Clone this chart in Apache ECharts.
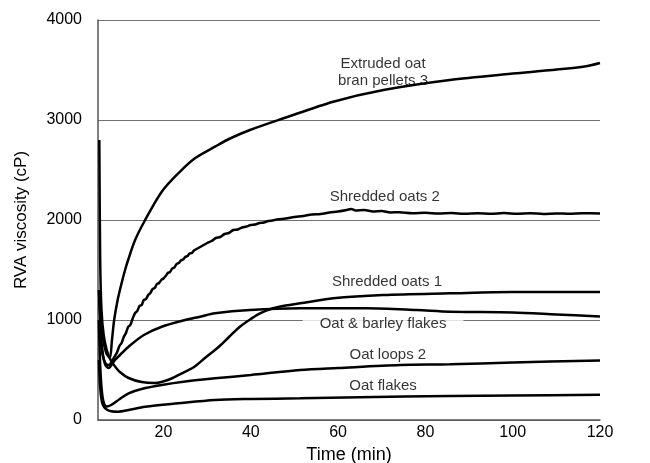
<!DOCTYPE html>
<html>
<head>
<meta charset="utf-8">
<script src="https://cdn.jsdelivr.net/npm/echarts@6/dist/echarts.min.js"></script>
<style>html,body{margin:0;padding:0;background:#fff}#c{width:650px;height:463px}</style>
</head>
<body>
<div id="c"></div>
<script>
// ---- data ----
const extrudedT = [5.2,5.6,6.2,6.9,7.7,8.2,8.7,9.5,10.3,11.2,11.9,13.5,15.8,19.6,23.4,27.2,31.8,35,39.8,47.5,58.9,70.4,85.6,100.9,116.1,120];
const extrudedV = [1300,1000,800,670,620,800,1000,1200,1350,1500,1600,1800,2000,2283,2467,2617,2733,2810,2900,3017,3183,3300,3400,3467,3533,3570];

const shred2T = [5.3,5.6,6.1,6.8,7.5,8.2,8.9,9.4,9.9,10.4,10.9,11.4,11.9,12.4,12.9,13.5,14.0,14.5,15.0,15.5,16.0,16.5,17.0,17.5,18.0,18.5,19.0,19.5,20.0,20.5,21.0,21.5,22.0,22.5,23.0,23.5,24.0,24.5,25.0,25.5,26.0,26.5,27.0,28.0,29.0,30.0,31.0,32.0,33.0,34.0,35.0,36.0,37.0,38.0,39.0,40.0,41.0,42.0,43.0,44.0,45.0,46.0,48,50,52,54,56,58,60,62,63,64,66,68,70,72,74,77,80,83,86,89,92,95,98,101,104,107,110,113,116,120];
const shred2V = [1000,800,640,560,550,590,640,680,740,770,830,870,930,950,1010,1070,1090,1140,1150,1200,1210,1250,1270,1310,1320,1360,1370,1400,1415,1440,1470,1480,1515,1525,1560,1570,1595,1605,1630,1640,1665,1670,1695,1720,1745,1770,1790,1820,1830,1860,1870,1900,1905,1925,1935,1950,1955,1970,1975,1990,1995,2005,2015,2030,2040,2055,2060,2075,2085,2100,2110,2095,2100,2085,2090,2075,2078,2068,2072,2064,2070,2062,2068,2063,2069,2062,2067,2061,2066,2062,2067,2066];

const shred1T = [5.3,5.5,5.8,6.3,7,8,9,10,12,15,18,21,24.2,27,29.5,31.8,33,35,37.5,40,42.1,45.1,48,51.3,58.9,70.3,85.6,100,120];
const shred1V = [2800,1600,1100,850,700,590,530,480,420,380,370,400,467,530,620,700,745,830,933,1010,1067,1117,1145,1167,1217,1250,1267,1280,1280];

const barleyT = [5.3,5.6,6.0,6.6,7.4,8.9,10.5,12,15.5,19.6,25,28.4,31.8,39.8,51.3,66.5,78,85.6,100,110,120];
const barleyV = [1200,900,700,560,520,600,670,733,850,933,1000,1033,1067,1100,1117,1117,1100,1083,1075,1055,1035];

const loopsT = [5.2,5.5,5.9,6.4,7.0,8,10,12,15,19.6,25,31.8,40,51.3,60,74.2,85.6,100,120];
const loopsV = [1000,550,280,160,135,150,210,267,310,350,385,417,450,500,520,550,557,575,595];

const flakesT = [5.2,5.5,5.9,6.4,7.0,8.0,9.6,12,15.8,23.4,31.8,40,51.3,65,85.6,100,120];
const flakesV = [600,320,180,130,105,88,83,100,133,167,200,210,217,228,240,246,252];

const labelTexts  = ['Extruded oat\nbran pellets 3','Shredded oats 2','Shredded oats 1','Oat & barley flakes','Oat loops 2','Oat flakes'];
const labelTimes  = [70.3,70.7,71.2,70.3,71.4,70.3];
const labelValues = [3480,2230,1380,960,650,340];

const xTickLabels = [20,40,60,80,100,120];
const yTicks = [0,1000,2000,3000,4000];

// ---- chart ----
function pairs(t, v){ return t.map((x,i)=>[x, v[i]]); }
const curves = [[extrudedT,extrudedV],[shred2T,shred2V],[shred1T,shred1V],[barleyT,barleyV],[loopsT,loopsV],[flakesT,flakesV]];

const lineSeries = curves.map(c => ({
  type:'line', data: pairs(c[0], c[1]), showSymbol:false, symbol:'none',
  smooth:0.3, lineStyle:{color:'#000', width:2.5}, z:3, silent:true
}));

const labelData = labelTexts.map((s,i)=>{
  const item = {value:[labelTimes[i], labelValues[i]], name:s};
  if (s.indexOf('barley')>=0) {
    item.label = {backgroundColor:'#fff', padding:[2,17,2,17]};
  }
  return item;
});

const chart = echarts.init(document.getElementById('c'), null, {renderer:'canvas'});
chart.setOption({
  animation:false,
  backgroundColor:'#fff',
  grid:{left:98, right:50, top:20, bottom:43, containLabel:false, outerBoundsMode:'none'},
  xAxis:{
    type:'value', min:5, max:120, interval:5,
    name:'Time (min)', nameLocation:'middle', nameGap:16,
    nameTextStyle:{fontFamily:'Liberation Sans, Arial', fontSize:18, color:'#000', verticalAlign:'top'},
    axisLine:{show:true, lineStyle:{color:'#555', width:1.5}},
    axisTick:{show:false},
    splitLine:{show:false},
    axisLabel:{fontFamily:'Liberation Sans, Arial', fontSize:16, color:'#000', margin:5,
      formatter: v => xTickLabels.indexOf(v)>=0 ? String(v) : ''}
  },
  yAxis:{
    type:'value', min:0, max:4000, interval:1000,
    name:'RVA viscosity (cP)', nameLocation:'middle', nameGap:68, nameRotate:90,
    nameTextStyle:{fontFamily:'Liberation Sans, Arial', fontSize:17, color:'#000'},
    axisLine:{show:true, lineStyle:{color:'#555', width:1.5}},
    axisTick:{show:false},
    splitLine:{show:true, lineStyle:{color:'#707070', width:1}},
    axisLabel:{fontFamily:'Liberation Sans, Arial', fontSize:16, color:'#000', margin:16,
      formatter: v => yTicks.indexOf(v)>=0 ? String(v) : ''}
  },
  series: lineSeries.concat([{
    type:'scatter', data:labelData, symbolSize:0, z:5, silent:true,
    label:{show:true, position:'inside', formatter: p => p.name,
      fontFamily:'Liberation Sans, Arial', fontSize:15, color:'#000', lineHeight:17, align:'center'}
  }])
});
</script>
</body>
</html>
